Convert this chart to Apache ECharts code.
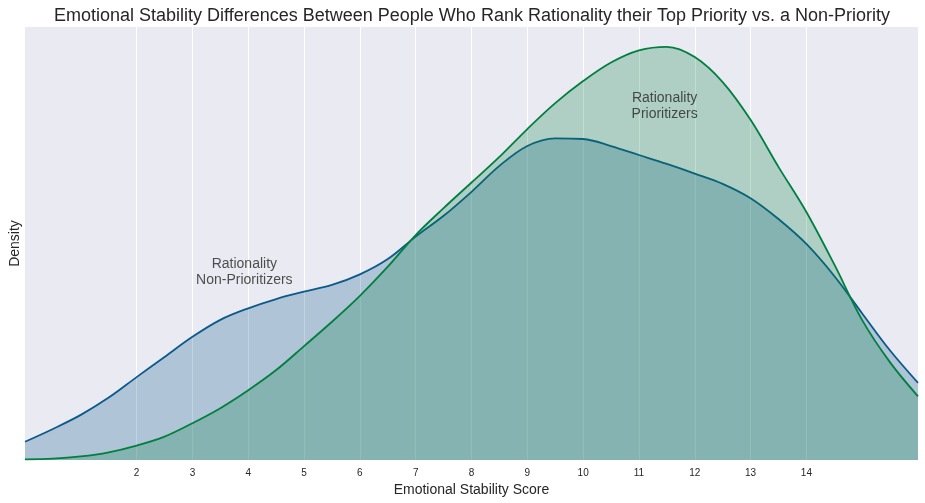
<!DOCTYPE html>
<html>
<head>
<meta charset="utf-8">
<script src="https://cdn.jsdelivr.net/npm/echarts@6/dist/echarts.min.js"></script>
<style>
  html, body { margin: 0; padding: 0; background: #fff; }
  #chart { width: 925px; height: 503px; }
</style>
</head>
<body>
<div id="chart"></div>
<script>
  // score grid (x) for both density curves
  var scores = [0,0.5,1,1.5,2,2.5,3,3.5,4,4.5,5,5.5,6,6.5,7,7.5,8,8.5,9,9.5,10,10.5,11,11.5,12,12.5,13,13.5,14,14.5,15,15.5,16];

  // Rationality Non-Prioritizers density
  var nonPriority = [0.0057,0.0097,0.0141,0.0195,0.0259,0.0322,0.0385,0.0438,0.0474,0.0503,0.0526,0.0547,0.0580,0.0628,0.0698,0.0763,0.0838,0.0919,0.0981,0.1005,0.1003,0.0981,0.0953,0.0925,0.0895,0.0863,0.0818,0.0753,0.0675,0.0575,0.0458,0.0342,0.0241];

  // Rationality Prioritizers density
  var priority = [0.0002,0.0004,0.0011,0.0024,0.0045,0.0073,0.0115,0.0162,0.0218,0.0281,0.0356,0.0432,0.0513,0.0604,0.0703,0.0787,0.0867,0.0947,0.1034,0.1115,0.1184,0.1242,0.1280,0.1291,0.1259,0.1181,0.1063,0.0916,0.0775,0.0611,0.0437,0.0305,0.0199];

  // tick labels shown on x axis
  var xTicks = [2,3,4,5,6,7,8,9,10,11,12,13,14];

  // annotation texts [x, y, text]
  var notes = [
    [3.93, 0.0588, 'Rationality\nNon-Prioritizers'],
    [11.46, 0.1106, 'Rationality\nPrioritizers']
  ];

  var blue = '#0b5a8a';
  var green = '#007f3f';
  var ink = '#262626';
  var font = 'Liberation Sans, Arial, sans-serif';

  function pairs(ys){
    return scores.map(function(x,i){ return [x, ys[i]]; });
  }

  var chart = echarts.init(document.getElementById('chart'));
  chart.setOption({
    animation: false,
    textStyle: { fontFamily: font },
    title: {
      text: 'Emotional Stability Differences Between People Who Rank Rationality their Top Priority vs. a Non-Priority',
      left: 467, textAlign: 'center',
      top: 2,
      textStyle: { fontSize: 18, fontWeight: 'normal', color: ink, fontFamily: font }
    },
    grid: {
      left: 25, right: 7, top: 27, bottom: 43,
      outerBoundsMode: 'none', containLabel: false,
      show: true, backgroundColor: '#EAEAF2', borderWidth: 0
    },
    xAxis: {
      type: 'value', min: 0, max: 16, interval: 1,
      name: 'Emotional Stability Score',
      nameLocation: 'middle', nameGap: 23,
      nameTextStyle: { fontSize: 14, color: ink },
      axisLine: { show: false },
      axisTick: { show: false, customValues: xTicks },
      splitLine: { show: true, lineStyle: { color: '#ffffff', width: 1 } },
      axisLabel: { fontSize: 10, color: ink, margin: 8, customValues: xTicks }
    },
    yAxis: {
      type: 'value', min: 0, max: 0.1353,
      name: 'Density',
      nameLocation: 'middle', nameGap: 3,
      nameTextStyle: { fontSize: 14, color: ink },
      axisLine: { show: false },
      axisTick: { show: false },
      axisLabel: { show: false },
      splitLine: { show: false }
    },
    series: [
      {
        name: 'Non-Prioritizers', type: 'line', z: 2,
        data: pairs(nonPriority), smooth: 0.35, showSymbol: false,
        lineStyle: { color: blue, width: 1.8 },
        itemStyle: { color: blue },
        areaStyle: { color: blue, opacity: 0.26 }
      },
      {
        name: 'Prioritizers', type: 'line', z: 3,
        data: pairs(priority), smooth: 0.35, showSymbol: false,
        lineStyle: { color: green, width: 1.8 },
        itemStyle: { color: green },
        areaStyle: { color: green, opacity: 0.25 }
      },
      {
        type: 'scatter', z: 5, symbolSize: 0, silent: true,
        data: notes.map(function(n){ return { value: [n[0], n[1]], name: n[2] }; }),
        label: {
          show: true, position: 'inside', formatter: '{b}',
          fontSize: 14, color: ink, lineHeight: 16, align: 'center'
        }
      }
    ]
  });
</script>
</body>
</html>
